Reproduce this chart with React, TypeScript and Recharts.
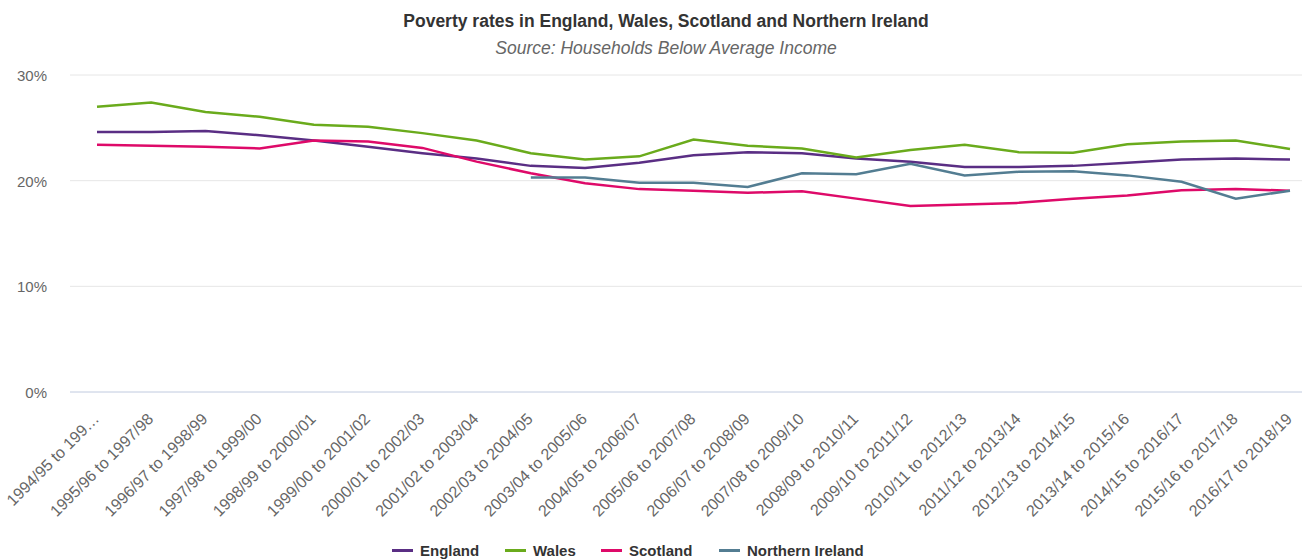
import React from "react";
import { LineChart, Line, XAxis, YAxis, CartesianGrid, Legend } from "recharts";

const categories = [
  "1994/95 to 1996/97", "1995/96 to 1997/98", "1996/97 to 1998/99", "1997/98 to 1999/00",
  "1998/99 to 2000/01", "1999/00 to 2001/02", "2000/01 to 2002/03", "2001/02 to 2003/04",
  "2002/03 to 2004/05", "2003/04 to 2005/06", "2004/05 to 2006/07", "2005/06 to 2007/08",
  "2006/07 to 2008/09", "2007/08 to 2009/10", "2008/09 to 2010/11", "2009/10 to 2011/12",
  "2010/11 to 2012/13", "2011/12 to 2013/14", "2012/13 to 2014/15", "2013/14 to 2015/16",
  "2014/15 to 2016/17", "2015/16 to 2017/18", "2016/17 to 2018/19",
];

const tickLabels = [
  "1994/95 to 199…", "1995/96 to 1997/98", "1996/97 to 1998/99", "1997/98 to 1999/00",
  "1998/99 to 2000/01", "1999/00 to 2001/02", "2000/01 to 2002/03", "2001/02 to 2003/04",
  "2002/03 to 2004/05", "2003/04 to 2005/06", "2004/05 to 2006/07", "2005/06 to 2007/08",
  "2006/07 to 2008/09", "2007/08 to 2009/10", "2008/09 to 2010/11", "2009/10 to 2011/12",
  "2010/11 to 2012/13", "2011/12 to 2013/14", "2012/13 to 2014/15", "2013/14 to 2015/16",
  "2014/15 to 2016/17", "2015/16 to 2017/18", "2016/17 to 2018/19",
];

const england = [24.6, 24.6, 24.7, 24.3, 23.8, 23.2, 22.6, 22.1, 21.4, 21.2, 21.7, 22.4, 22.7, 22.6, 22.1, 21.8, 21.3, 21.3, 21.4, 21.7, 22.0, 22.1, 22.0];
const wales = [27.0, 27.4, 26.5, 26.05, 25.3, 25.1, 24.5, 23.8, 22.6, 22.0, 22.3, 23.9, 23.3, 23.05, 22.2, 22.9, 23.4, 22.7, 22.65, 23.45, 23.7, 23.8, 23.0];
const scotland = [23.4, 23.3, 23.2, 23.05, 23.8, 23.7, 23.1, 21.8, 20.7, 19.75, 19.2, 19.05, 18.85, 19.0, 18.3, 17.6, 17.75, 17.9, 18.3, 18.6, 19.1, 19.2, 19.05];
const northernIreland: (number | null)[] = [null, null, null, null, null, null, null, null, 20.3, 20.3, 19.8, 19.8, 19.4, 20.7, 20.6, 21.6, 20.5, 20.85, 20.9, 20.5, 19.9, 18.3, 19.05];

const yTicks = [0, 10, 20, 30];

const seriesNames = ["England", "Wales", "Scotland", "Northern Ireland"];
const seriesKeys = ["england", "wales", "scotland", "ni"];
const seriesColors = ["#5a2e84", "#6aab1c", "#de0a69", "#537d92"];

const data = categories.map((c, i) => ({
  category: c,
  label: tickLabels[i],
  england: england[i],
  wales: wales[i],
  scotland: scotland[i],
  ni: northernIreland[i],
}));

const FONT = "'Liberation Sans', Arial, sans-serif";

const XTick = (props: any) => {
  const { x, y, payload } = props;
  const label = tickLabels[payload.index] ?? payload.value;
  return (
    <text
      x={x + 3}
      y={y + 20}
      textAnchor="end"
      fontSize={16}
      fontFamily={FONT}
      fill="#666666"
      transform={`rotate(-45 ${x + 3} ${y + 20})`}
    >
      {label}
    </text>
  );
};

const YTick = (props: any) => {
  const { y, payload } = props;
  return (
    <text x={47} y={y + 6} textAnchor="end" fontSize={15} fontFamily={FONT} fill="#666666">
      {payload.value}%
    </text>
  );
};

const LegendContent = () => {
  const items = [392, 505, 601, 719];
  return (
    <div style={{ position: "relative", width: 1302, height: 20 }}>
      {seriesNames.map((n, i) => (
        <div
          key={n}
          style={{
            position: "absolute",
            left: items[i],
            top: 0,
            height: 20,
            display: "flex",
            alignItems: "center",
            fontFamily: FONT,
            fontWeight: "bold",
            fontSize: 15,
            color: "#333333",
            whiteSpace: "nowrap",
          }}
        >
          <span style={{ display: "inline-block", width: 21, height: 3, background: seriesColors[i], marginRight: 7 }} />
          {n}
        </div>
      ))}
    </div>
  );
};

export default function App() {
  return (
    <div style={{ position: "absolute", left: 0, top: 0, width: 1302, height: 560, background: "#fff", overflow: "hidden" }}>
      <div
        style={{
          position: "absolute",
          left: 0,
          width: 1332,
          top: 11,
          textAlign: "center",
          fontFamily: FONT,
          fontWeight: "bold",
          fontSize: 17.5,
          color: "#333333",
        }}
      >
        Poverty rates in England, Wales, Scotland and Northern Ireland
      </div>
      <div
        style={{
          position: "absolute",
          left: 0,
          width: 1332,
          top: 38,
          textAlign: "center",
          fontFamily: FONT,
          fontStyle: "italic",
          fontSize: 17.5,
          color: "#666666",
        }}
      >
        Source: Households Below Average Income
      </div>
      <div style={{ position: "absolute", left: 0, top: 0 }}>
        <LineChart width={1302} height={560} data={data} margin={{ top: 75, right: 0, bottom: 0, left: 0 }}>
          <CartesianGrid horizontal vertical={false} stroke="#e6e6e6" strokeWidth={1} />
          <XAxis
            dataKey="category"
            interval={0}
            height={148}
            padding={{ left: 27, right: 12 }}
            axisLine={{ stroke: "#ccd6eb", strokeWidth: 1 }}
            tickLine={false}
            tick={<XTick />}
          />
          <YAxis
            width={70}
            domain={[0, 30]}
            ticks={yTicks}
            axisLine={false}
            tickLine={false}
            tick={<YTick />}
          />
          <Legend
            verticalAlign="bottom"
            content={<LegendContent />}
            wrapperStyle={{ left: 0, width: 1302, bottom: 0 }}
          />
          {seriesKeys.map((k, i) => (
            <Line
              key={k}
              type="linear"
              dataKey={k}
              name={seriesNames[i]}
              stroke={seriesColors[i]}
              strokeWidth={2.5}
              dot={false}
              activeDot={false}
              connectNulls={false}
              isAnimationActive={false}
            />
          ))}
        </LineChart>
      </div>
    </div>
  );
}
